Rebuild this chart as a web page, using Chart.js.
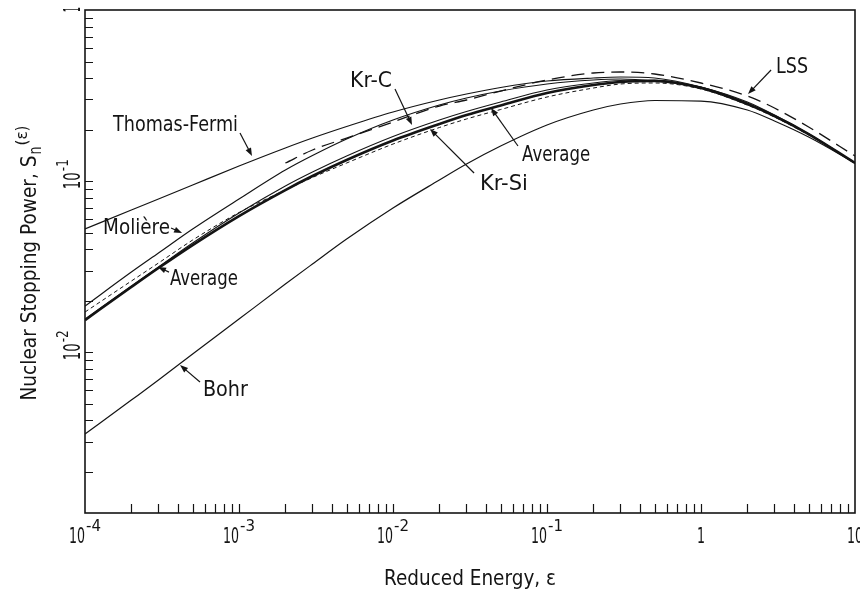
<!DOCTYPE html>
<html>
<head>
<meta charset="utf-8">
<title>Nuclear stopping power</title>
<script src="https://cdn.jsdelivr.net/npm/chart.js@4.4.0/dist/chart.umd.min.js"></script>
<style>
  html, body { margin: 0; padding: 0; background: #fff; }
  #wrap { width: 860px; height: 598px; }
</style>
</head>
<body>
<div id="wrap"><canvas id="chart" width="860" height="598"></canvas></div>
<script>
// reduced energy (x) and nuclear stopping power S_n for each potential
const energy      = [1e-4, 2e-4, 3e-4, 5e-4, 1e-3, 2e-3, 3e-3, 5e-3, 1e-2, 2e-2, 3e-2, 5e-2, 0.1, 0.2, 0.3, 0.5, 1, 2, 3, 5, 10];
const thomasFermi = [0.0525, 0.0678, 0.0786, 0.0949, 0.1225, 0.1562, 0.1786, 0.2085, 0.2535, 0.2979, 0.3229, 0.3524, 0.3846, 0.4005, 0.4059, 0.4005, 0.3548, 0.2900, 0.2434, 0.1885, 0.1276];
const moliere     = [0.0186, 0.0294, 0.0380, 0.0525, 0.0786, 0.1161, 0.1411, 0.1762, 0.2276, 0.2784, 0.3060, 0.3362, 0.3694, 0.3899, 0.3951, 0.3846, 0.3548, 0.2861, 0.2402, 0.1885, 0.1276];
const lss         = [null, null, null, null, null, 0.1276, 0.1520, 0.1786, 0.2215, 0.2747, 0.2979, 0.3362, 0.3899, 0.4284, 0.4342, 0.4227, 0.3745, 0.3143, 0.2674, 0.2071, 0.1402];
const krC         = [0.01563, 0.02437, 0.03148, 0.04346, 0.06508, 0.09363, 0.1130, 0.1402, 0.1823, 0.2276, 0.2551, 0.2900, 0.3407, 0.3745, 0.3873, 0.3899, 0.3500, 0.2822, 0.2402, 0.1885, 0.1276];
const krSi        = [0.01718, 0.02607, 0.03322, 0.04526, 0.06553, 0.08872, 0.1050, 0.1276, 0.1647, 0.2057, 0.2307, 0.2621, 0.3101, 0.3500, 0.3694, 0.3745, 0.3454, 0.2784, 0.2369, 0.1859, 0.1276];
const average     = [0.01542, 0.02405, 0.03106, 0.04231, 0.06252, 0.08872, 0.1071, 0.1329, 0.1727, 0.2157, 0.2434, 0.2766, 0.3272, 0.3643, 0.3795, 0.3846, 0.3500, 0.2822, 0.2402, 0.1885, 0.1276];
const bohr        = [0.003326, 0.005255, 0.00688, 0.009761, 0.01563, 0.02504, 0.03278, 0.04587, 0.06965, 0.1015, 0.1259, 0.1603, 0.2128, 0.2603, 0.2822, 0.2959, 0.2938, 0.2603, 0.2246, 0.1810, 0.1276];

// axis ranges and labelled ticks
const xMin = 1e-4, xMax = 10;
const yMin = 1.15e-3, yMax = 1;
const xTickValues = [1e-4, 1e-3, 1e-2, 1e-1, 1, 10];
const xTickLabels = [['10', '-4'], ['10', '-3'], ['10', '-2'], ['10', '-1'], ['1', ''], ['10', '']];
const yTickValues = [1e-2, 1e-1, 1];
const yTickLabels = [['10', '-2'], ['10', '-1'], ['1', '']];

// curve labels: text anchor and arrow (from -> to), all in data units
const callouts = [
  { text: 'Thomas-Fermi', at: [1.52e-4, 0.1963], w: 125, from: [1.015e-3, 0.1911], to: [1.215e-3, 0.1402] },
  { text: 'Molière',      at: [1.31e-4, 0.0491], w: 67,  from: [3.62e-4, 0.0532],  to: [4.27e-4, 0.0498] },
  { text: 'Average',      at: [3.56e-4, 0.0247], w: 68,  from: [3.51e-4, 0.0294],  to: [2.98e-4, 0.0315] },
  { text: 'Bohr',         at: [5.83e-4, 0.00555], w: 45, from: [5.58e-4, 0.0067],  to: [4.14e-4, 0.00842] },
  { text: 'Kr-C',         at: [5.26e-3, 0.3548], w: 42,  from: [0.0103, 0.3455],   to: [0.01329, 0.2128] },
  { text: 'Kr-Si',        at: [0.0367, 0.0887],  w: 48,  from: [0.0336, 0.1116],   to: [0.0174, 0.2017] },
  { text: 'Average',      at: [0.0689, 0.1311],  w: 68,  from: [0.0648, 0.1604],   to: [0.0433, 0.2675] },
  { text: 'LSS',          at: [3.07, 0.4283],    w: 32,  from: [2.85, 0.4461],     to: [2.02, 0.3229] }
];

const INK = '#141414';
const FONT = '"DejaVu Sans", "Liberation Sans", Arial, sans-serif';

function points(values) {
  return energy.map((e, i) => ({ x: e, y: values[i] })).filter(p => p.y != null);
}

function curve(label, values, width, dash) {
  return {
    label, data: points(values),
    borderColor: INK, borderWidth: width, borderDash: dash || [],
    pointRadius: 0, fill: false, cubicInterpolationMode: 'monotone'
  };
}

// draw text squeezed to a given width (the figure uses a narrow lettering)
function narrowText(ctx, s, x, y, size, w, align) {
  ctx.save();
  ctx.font = `${size}px ${FONT}`;
  const nat = ctx.measureText(s).width || 1;
  const sx = w ? w / nat : 0.8;
  let x0 = x;
  if (align === 'center') x0 = x - (nat * sx) / 2;
  if (align === 'right') x0 = x - nat * sx;
  ctx.translate(x0, y);
  ctx.scale(sx, 1);
  ctx.textAlign = 'left';
  ctx.textBaseline = 'alphabetic';
  ctx.fillText(s, 0, 0);
  ctx.restore();
  return nat * sx;
}

function arrow(ctx, x1, y1, x2, y2) {
  const ang = Math.atan2(y2 - y1, x2 - x1);
  const len = 8, half = 3;
  ctx.beginPath();
  ctx.moveTo(x1, y1);
  ctx.lineTo(x2 - Math.cos(ang) * len * 0.6, y2 - Math.sin(ang) * len * 0.6);
  ctx.stroke();
  ctx.beginPath();
  ctx.moveTo(x2, y2);
  ctx.lineTo(x2 - Math.cos(ang) * len + Math.sin(ang) * half, y2 - Math.sin(ang) * len - Math.cos(ang) * half);
  ctx.lineTo(x2 - Math.cos(ang) * len - Math.sin(ang) * half, y2 - Math.sin(ang) * len + Math.cos(ang) * half);
  ctx.closePath();
  ctx.fill();
}

const paperPlugin = {
  id: 'paper',
  afterDatasetsDraw(chart) {
    const { ctx, chartArea: a, scales: { x, y } } = chart;
    ctx.save();
    ctx.strokeStyle = INK;
    ctx.fillStyle = INK;

    // frame
    ctx.lineWidth = 1.6;
    ctx.strokeRect(a.left, a.top, a.right - a.left, a.bottom - a.top);

    // inward ticks, 1..9 per decade
    ctx.lineWidth = 1.2;
    ctx.beginPath();
    for (let d = -4; d <= 0; d++) {
      for (let m = 1; m <= 9; m++) {
        const v = m * Math.pow(10, d);
        if (v <= xMin || v >= xMax) continue;
        const px = Math.round(x.getPixelForValue(v)) + 0.5;
        ctx.moveTo(px, a.bottom);
        ctx.lineTo(px, a.bottom - 9);
      }
    }
    for (let d = -3; d <= -1; d++) {
      for (let m = 1; m <= 9; m++) {
        const v = m * Math.pow(10, d);
        if (v <= yMin || v >= yMax) continue;
        const py = Math.round(y.getPixelForValue(v)) + 0.5;
        ctx.moveTo(a.left, py);
        ctx.lineTo(a.left + 8, py);
      }
    }
    ctx.stroke();

    // x tick labels
    xTickValues.forEach((v, i) => {
      const px = x.getPixelForValue(v);
      const [base, exp] = xTickLabels[i];
      if (exp) {
        narrowText(ctx, base, px, 543, 22, 16, 'right');
        narrowText(ctx, exp, px + 1, 531, 15, 15, 'left');
      } else {
        narrowText(ctx, base, px, 543, 22, base.length * 8, 'center');
      }
    });

    // y tick labels, rotated
    yTickValues.forEach((v, i) => {
      const py = y.getPixelForValue(v);
      const [base, exp] = yTickLabels[i];
      ctx.save();
      ctx.translate(80, py);
      ctx.rotate(-Math.PI / 2);
      if (exp) {
        narrowText(ctx, base, -8, 0, 23, 17, 'left');
        narrowText(ctx, exp, 10, -12, 15, 12, 'left');
      } else {
        narrowText(ctx, base, -2, 0, 23, 5, 'left');
      }
      ctx.restore();
    });

    // axis titles
    const cx = (a.left + a.right) / 2;
    narrowText(ctx, 'Reduced Energy, ε', cx, 585, 21, 172, 'center');

    ctx.save();
    ctx.translate(36, (a.top + a.bottom) / 2 + 139);
    ctx.rotate(-Math.PI / 2);
    const w1 = narrowText(ctx, 'Nuclear Stopping Power, S', 0, 0, 21, 245, 'left');
    narrowText(ctx, 'n', w1 + 1, 5, 17, 8, 'left');
    narrowText(ctx, '(ε)', w1 + 10, -9, 15, 20, 'left');
    ctx.restore();

    // curve callouts
    ctx.lineWidth = 1.2;
    callouts.forEach(c => {
      const tx = x.getPixelForValue(c.at[0]), ty = y.getPixelForValue(c.at[1]);
      narrowText(ctx, c.text, tx, ty, 21, c.w, 'left');
      arrow(ctx,
        x.getPixelForValue(c.from[0]), y.getPixelForValue(c.from[1]),
        x.getPixelForValue(c.to[0]), y.getPixelForValue(c.to[1]));
    });

    ctx.restore();
  }
};

new Chart(document.getElementById('chart'), {
  type: 'line',
  data: {
    datasets: [
      curve('Thomas-Fermi', thomasFermi, 1.2),
      curve('Molière', moliere, 1.2),
      curve('LSS', lss, 1.3, [13, 7]),
      curve('Kr-C', krC, 1.1),
      curve('Kr-Si', krSi, 1.0, [4, 3]),
      curve('Average', average, 2.6),
      curve('Bohr', bohr, 1.2)
    ]
  },
  options: {
    responsive: false,
    animation: false,
    devicePixelRatio: 1,
    layout: { padding: { left: 85, right: 5, top: 10, bottom: 85 } },
    plugins: { legend: { display: false }, tooltip: { enabled: false } },
    scales: {
      x: { type: 'logarithmic', min: xMin, max: xMax, display: false },
      y: { type: 'logarithmic', min: yMin, max: yMax, display: false }
    }
  },
  plugins: [paperPlugin]
});
</script>
</body>
</html>
